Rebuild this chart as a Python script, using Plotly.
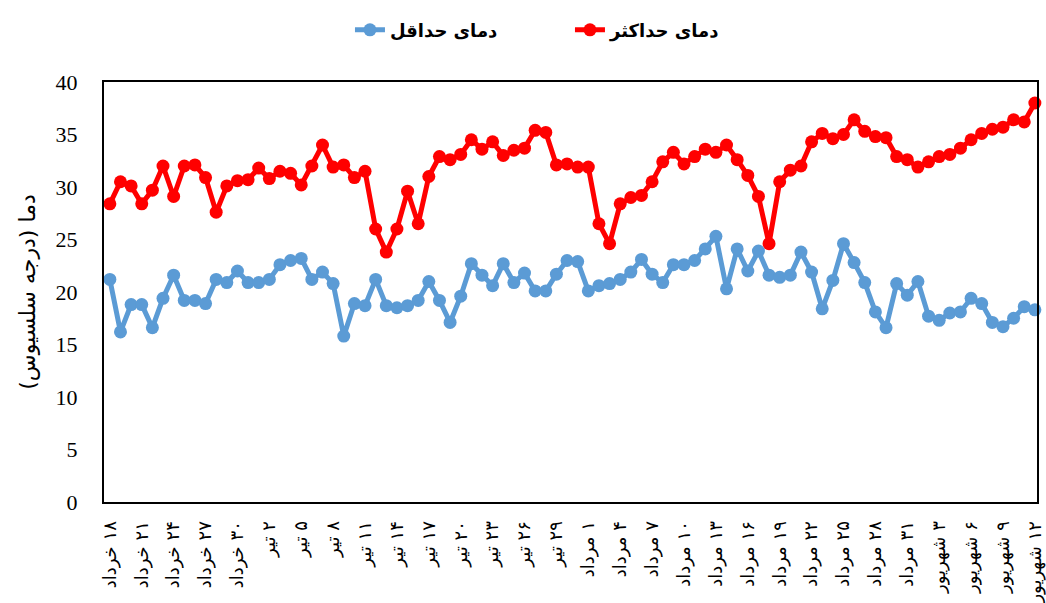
import plotly.graph_objects as go

days = list(range(88))

tick_labels = ["۱۸ خرداد", "۲۱ خرداد", "۲۴ خرداد", "۲۷ خرداد", "۳۰ خرداد",
               "۲ تیر", "۵ تیر", "۸ تیر", "۱۱ تیر", "۱۴ تیر", "۱۷ تیر", "۲۰ تیر",
               "۲۳ تیر", "۲۶ تیر", "۲۹ تیر", "۱ مرداد", "۴ مرداد", "۷ مرداد",
               "۱۰ مرداد", "۱۳ مرداد", "۱۶ مرداد", "۱۹ مرداد", "۲۲ مرداد",
               "۲۵ مرداد", "۲۸ مرداد", "۳۱ مرداد", "۳ شهریور", "۶ شهریور",
               "۹ شهریور", "۱۲ شهریور"]
tick_positions = days[::3]

t_max = [28.4, 30.5, 30.1, 28.4, 29.7, 32.0, 29.1, 32.0, 32.1, 30.9,
         27.6, 30.1, 30.6, 30.7, 31.8, 30.8, 31.5, 31.3, 30.2, 32.0,
         34.0, 31.9, 32.1, 30.9, 31.5, 26.0, 23.8, 26.0, 29.6, 26.5,
         31.0, 32.9, 32.6, 33.1, 34.5, 33.6, 34.3, 33.0, 33.5, 33.7,
         35.4, 35.2, 32.1, 32.2, 31.9, 31.9, 26.5, 24.6, 28.4, 29.0,
         29.2, 30.5, 32.4, 33.3, 32.2, 32.9, 33.6, 33.3, 34.0, 32.6,
         31.1, 29.1, 24.6, 30.5, 31.6, 32.0, 34.3, 35.1, 34.6, 35.0,
         36.4, 35.3, 34.8, 34.7, 32.9, 32.6, 31.9, 32.4, 32.9, 33.1,
         33.7, 34.5, 35.1, 35.5, 35.7, 36.4, 36.2, 38.0]

t_min = [21.2, 16.2, 18.8, 18.8, 16.6, 19.4, 21.6, 19.2, 19.2, 18.9,
         21.2, 20.9, 22.0, 20.9, 20.9, 21.2, 22.6, 23.0, 23.2, 21.2,
         21.9, 20.8, 15.8, 18.9, 18.7, 21.2, 18.7, 18.5, 18.7, 19.2,
         21.0, 19.2, 17.1, 19.6, 22.7, 21.6, 20.6, 22.7, 20.9, 21.8,
         20.1, 20.1, 21.7, 23.0, 22.9, 20.1, 20.6, 20.8, 21.2, 21.9,
         23.1, 21.7, 20.9, 22.6, 22.6, 23.0, 24.1, 25.3, 20.3, 24.1,
         22.0, 23.9, 21.6, 21.4, 21.6, 23.8, 21.9, 18.4, 21.1, 24.6,
         22.8, 20.9, 18.1, 16.6, 20.8, 19.7, 21.0, 17.7, 17.3, 18.0,
         18.1, 19.4, 18.9, 17.1, 16.7, 17.5, 18.6, 18.3]

# RLM prefix makes each label lay out right-to-left (day number first)
tick_text = ["\u200f" + t for t in tick_labels]

fig = go.Figure()
fig.add_trace(go.Scatter(x=days, y=t_min, mode="lines+markers", name="دمای حداقل",
                         line=dict(color="#5B9BD5", width=5),
                         marker=dict(color="#5B9BD5", size=13), cliponaxis=False))
fig.add_trace(go.Scatter(x=days, y=t_max, mode="lines+markers", name="دمای حداکثر",
                         line=dict(color="#FF0000", width=5),
                         marker=dict(color="#FF0000", size=13), cliponaxis=False))

fig.update_layout(
    width=1046, height=603,
    margin=dict(l=104, r=9, t=82, b=101),
    paper_bgcolor="white", plot_bgcolor="white",
    showlegend=True,
    legend=dict(orientation="h", xref="container", x=0.5449, xanchor="center",
                yref="container", y=0.950, yanchor="middle",
                font=dict(family="DejaVu Sans", size=18, color="black", weight="bold"),
                entrywidth=175, entrywidthmode="pixels"),
    xaxis=dict(range=[-0.55, 87.2], tickmode="array", tickvals=tick_positions,
               ticktext=tick_text, tickangle=-90, ticklabelstandoff=10,
               ticklabeloverflow="allow", automargin=False,
               tickfont=dict(family="DejaVu Sans", size=18, color="black"),
               showgrid=False, zeroline=False, showline=True, mirror=True,
               linecolor="black", linewidth=2, ticks=""),
    yaxis=dict(range=[0, 40], dtick=5, showgrid=False, zeroline=False,
               showline=True, mirror=True, linecolor="black", linewidth=2,
               ticks="", ticklabelstandoff=20, automargin=False,
               tickfont=dict(family="Liberation Serif", size=22, color="black"),
               title=dict(text="دما (درجه سلسیوس)",
                          font=dict(family="DejaVu Sans", size=22, color="black"),
                          standoff=14)),
)

fig.write_html("out.html", config={"displayModeBar": False},
               post_script="document.body.style.margin='0';")
